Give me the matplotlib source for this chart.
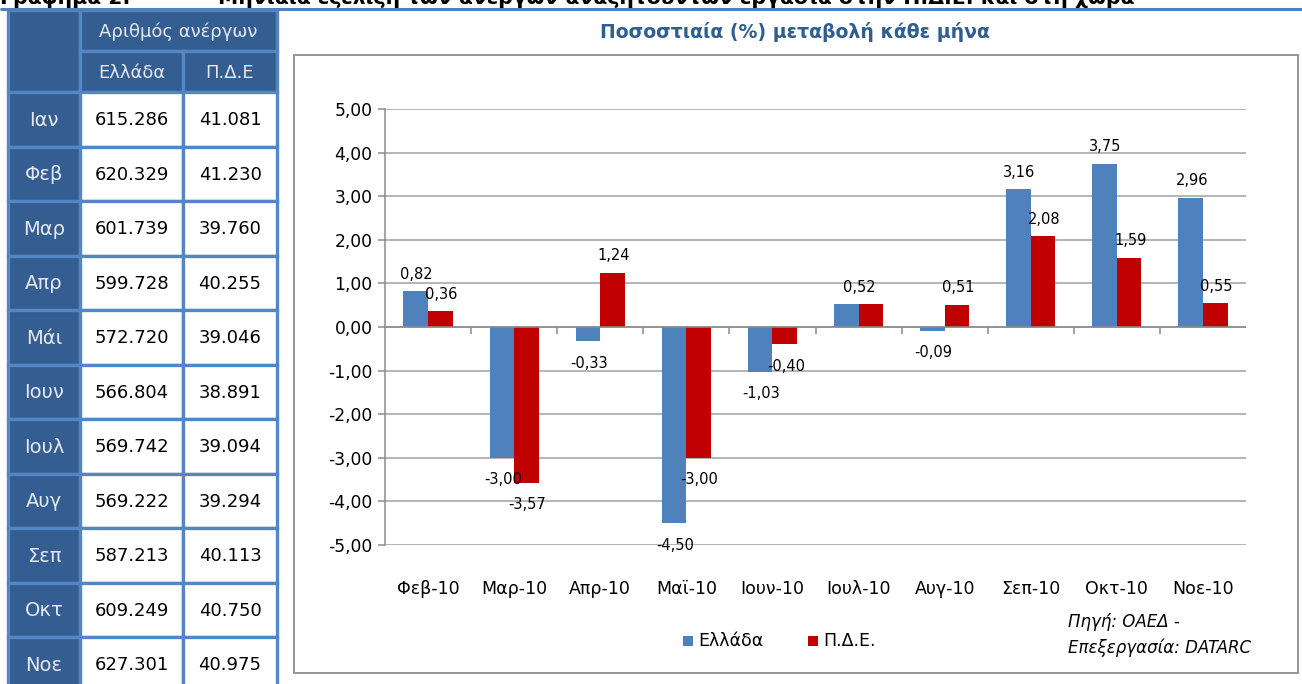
import matplotlib
matplotlib.use("Agg")
import matplotlib.pyplot as plt
import numpy as np
from matplotlib.patches import Rectangle

# table data
months = ["Ιαν", "Φεβ", "Μαρ", "Απρ", "Μάι", "Ιουν", "Ιουλ", "Αυγ", "Σεπ", "Οκτ", "Νοε"]
greece_counts = ["615.286", "620.329", "601.739", "599.728", "572.720", "566.804",
                 "569.742", "569.222", "587.213", "609.249", "627.301"]
pde_counts = ["41.081", "41.230", "39.760", "40.255", "39.046", "38.891",
              "39.094", "39.294", "40.113", "40.750", "40.975"]

# chart data (% change per month)
categories = ["Φεβ-10", "Μαρ-10", "Απρ-10", "Μαϊ-10", "Ιουν-10", "Ιουλ-10",
              "Αυγ-10", "Σεπ-10", "Οκτ-10", "Νοε-10"]
greece_pct = [0.82, -3.00, -0.33, -4.50, -1.03, 0.52, -0.09, 3.16, 3.75, 2.96]
pde_pct = [0.36, -3.57, 1.24, -3.00, -0.40, 0.52, 0.51, 2.08, 1.59, 0.55]

BLUE = "#4F81BD"
RED = "#C00000"
DARK = "#345D91"
BORDER = "#5586C4"
HEAD_TXT = "#E4E8EE"
TITLE_C = "#2F5E91"
W, H = 1302, 684

fig = plt.figure(figsize=(W / 100, H / 100), dpi=100)
fig.patch.set_facecolor("white")

# pixel-coordinate background axes for the table, frame and texts
bg = fig.add_axes([0, 0, 1, 1])
bg.set_xlim(0, W)
bg.set_ylim(H, 0)
bg.axis("off")

# heading, cut off at the top edge as in the source page
bg.text(0, 4, "Γράφημα 2:", fontsize=14.7, fontweight="bold", va="baseline", color="black")
bg.text(218, 4, "Μηνιαία εξέλιξη των ανέργων αναζητούντων εργασία στην Π.Δ.Ε. και στη χώρα",
        fontsize=14.7, fontweight="bold", va="baseline", color="black")
bg.plot([0, W], [8.5, 8.5], color=BLUE, lw=2.2, solid_capstyle="butt")


def cell(x0, y0, x1, y1, face, text="", tcolor="black", size=13):
    bg.add_patch(Rectangle((x0, y0), x1 - x0, y1 - y0, facecolor=face,
                           edgecolor=BORDER, lw=2.4))
    if text:
        bg.text((x0 + x1) / 2, (y0 + y1) / 2 + 1, text, ha="center", va="center",
                fontsize=size, color=tcolor)


xs = [8, 80, 183, 277]
cell(xs[0], 10, xs[1], 92, DARK)
cell(xs[1], 10, xs[3], 51, DARK, "Αριθμός ανέργων", HEAD_TXT, 13)
cell(xs[1], 51, xs[2], 92, DARK, "Ελλάδα", HEAD_TXT, 13)
cell(xs[2], 51, xs[3], 92, DARK, "Π.Δ.Ε", HEAD_TXT, 13)
row_h = 54.5
for i, (m, g, p) in enumerate(zip(months, greece_counts, pde_counts)):
    y0 = 92 + i * row_h
    cell(xs[0], y0, xs[1], y0 + row_h, DARK, m, HEAD_TXT, 14)
    cell(xs[1], y0, xs[2], y0 + row_h, "white", g, "black", 13)
    cell(xs[2], y0, xs[3], y0 + row_h, "white", p, "black", 13)

# chart frame and title
bg.add_patch(Rectangle((294, 55), 1298 - 294, 673 - 55, facecolor="white",
                       edgecolor="#8C8C8C", lw=1.3))
bg.text(795, 32, "Ποσοστιαία (%) μεταβολή κάθε μήνα", ha="center", va="center",
        fontsize=13.6, fontweight="bold", color=TITLE_C)

# legend and source
bg.add_patch(Rectangle((683, 636), 10, 10, facecolor=BLUE, edgecolor="none"))
bg.text(698, 641, "Ελλάδα", va="center", fontsize=12.5)
bg.add_patch(Rectangle((808, 636), 10, 10, facecolor=RED, edgecolor="none"))
bg.text(823, 641, "Π.Δ.Ε.", va="center", fontsize=12.5)
bg.text(1068, 622, "Πηγή: ΟΑΕΔ -", va="center", fontsize=12, style="italic")
bg.text(1068, 648, "Επεξεργασία: DATARC", va="center", fontsize=12, style="italic")

# bar chart
left, right, top, bottom = 385, 1246, 109, 545
ax = fig.add_axes([left / W, 1 - bottom / H, (right - left) / W, (bottom - top) / H])
ax.set_facecolor("none")
x = np.arange(len(categories))
bw = 0.286
ax.bar(x - bw / 2, greece_pct, bw, color=BLUE, zorder=3)
ax.bar(x + bw / 2, pde_pct, bw, color=RED, zorder=3)

ax.set_xlim(-0.5, len(categories) - 0.5)
ax.set_ylim(-5, 5)
ax.set_yticks(np.arange(-5, 6, 1))
ax.set_yticklabels([f"{v:.2f}".replace(".", ",") for v in np.arange(-5, 6, 1)])
ax.grid(axis="y", color="#A0A0A0", lw=1.1, zorder=0)
for s in ["top", "right", "bottom"]:
    ax.spines[s].set_visible(False)
ax.spines["left"].set_color("#8C8C8C")
ax.spines["left"].set_linewidth(1.1)
ax.tick_params(axis="y", length=5, width=1.1, color="#8C8C8C", pad=4, labelsize=12.3)
ax.set_xticks(x)
ax.set_xticklabels(categories)
ax.tick_params(axis="x", length=0, pad=25, labelsize=12.5)

# zero line with category-boundary ticks
ax.axhline(0, color="#8C8C8C", lw=1.1, zorder=4)
bounds = np.arange(0.5, len(categories) - 0.5, 1)
ax.vlines(bounds, -0.16, 0, color="#8C8C8C", lw=1.1, zorder=4)


def fmt(v):
    return f"{v:.2f}".replace(".", ",")


for i, (g, p) in enumerate(zip(greece_pct, pde_pct)):
    if g == p:
        # identical values: the two labels coincide over the category centre
        items = [(x[i], g)]
    else:
        items = [(x[i] - bw / 2, g), (x[i] + bw / 2, p)]
    for xi, v in items:
        off = 17 if v >= 0 else -22
        bar_top = max(g, p) if g == p else v
        ax.annotate(fmt(v), (xi, bar_top), xytext=(1, off), textcoords="offset pixels",
                    ha="center", va="center", fontsize=10.5, zorder=5)

fig.savefig("out.png", dpi=100, facecolor="white")
